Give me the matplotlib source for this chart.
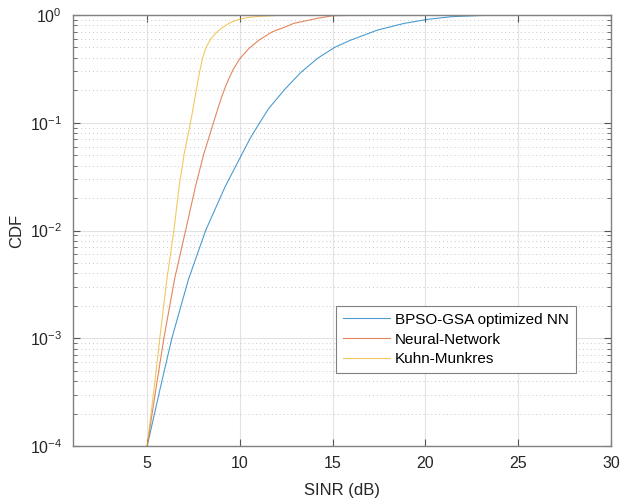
import math
import matplotlib
matplotlib.use('Agg')
import matplotlib.pyplot as plt
from matplotlib.ticker import LogLocator, FixedLocator, NullFormatter, FuncFormatter

plt.rcParams['font.family'] = ['Liberation Sans', 'DejaVu Sans']
plt.rcParams['mathtext.default'] = 'regular'

# CDF curves (SINR in dB, CDF value)
bpso_x = [5.0, 5.68, 6.33, 7.22, 8.15, 9.2, 10.13, 10.55, 10.98, 11.55, 12.38, 13.28,
          14.18, 15.1, 15.98, 17.42, 18.86, 20.12, 21.38, 23.0, 25.0, 27.8]
bpso_y = [1e-4, 3.3e-4, 1e-3, 3.5e-3, 1e-2, 2.55e-2, 5.2e-2, 7.16e-2, 9.5e-2, 0.1357, 0.201, 0.293,
          0.396, 0.501, 0.586, 0.726, 0.837, 0.912, 0.965, 0.99, 0.998, 1.0]

nn_x = [5.0, 5.46, 5.9, 6.47, 7.07, 7.6, 8.06, 8.4, 8.7, 8.99, 9.25, 9.62,
        10.0, 10.49, 11.03, 11.75, 12.47, 12.9, 14.18, 15.0, 16.5, 20.0]
nn_y = [1e-4, 3.3e-4, 1e-3, 3.5e-3, 1e-2, 2.55e-2, 5.2e-2, 8.0e-2, 0.118, 0.169, 0.224, 0.309,
        0.396, 0.49, 0.586, 0.70, 0.779, 0.837, 0.932, 0.985, 0.996, 1.0]

km_x = [5.0, 5.36, 5.68, 6.06, 6.44, 6.72, 7.0, 7.22, 7.41, 7.6, 7.79, 7.98, 8.1,
        8.24, 8.4, 8.6, 8.82, 9.05, 9.32, 9.59, 10.0, 10.45, 11.03, 12.0, 13.0, 15.0]
km_y = [1e-4, 3.3e-4, 1e-3, 3.5e-3, 1.0e-2, 2.55e-2, 5.2e-2, 8.0e-2, 0.118, 0.181, 0.277, 0.396, 0.46,
        0.527, 0.59, 0.652, 0.71, 0.763, 0.82, 0.867, 0.918, 0.95, 0.972, 0.99, 0.998, 1.0]

labels = ['BPSO-GSA optimized NN', 'Neural-Network', 'Kuhn-Munkres']
xticks = [5, 10, 15, 20, 25, 30]
yticks = [1e-4, 1e-3, 1e-2, 1e-1, 1]

fig = plt.figure(figsize=(6.2, 5.01), dpi=100)
ax = fig.add_axes([0.1177, 0.1098, 0.8678, 0.8602])

ax.plot(bpso_x, bpso_y, color='#0072BD', lw=0.8, alpha=0.7, label=labels[0])
ax.plot(nn_x, nn_y, color='#D95319', lw=0.8, alpha=0.7, label=labels[1])
ax.plot(km_x, km_y, color='#EDB120', lw=0.8, alpha=0.7, label=labels[2])

ax.set_yscale('log')
ax.set_xlim(1, 30)
ax.set_ylim(1e-4, 1)
ax.xaxis.set_major_locator(FixedLocator(xticks))
ax.yaxis.set_major_locator(FixedLocator(yticks))
ax.yaxis.set_minor_locator(LogLocator(base=10, subs=range(2, 10)))
ax.yaxis.set_minor_formatter(NullFormatter())
ax.yaxis.set_major_formatter(FuncFormatter(lambda v, p: '$10^{%d}$' % round(math.log10(v))))

ax.grid(True, which='major', color='#e2e2e2', lw=0.8, ls='-')
ax.grid(True, which='minor', axis='y', color='#c8c8c8', lw=0.7, ls=(0, (1, 3)))
ax.set_axisbelow(True)

for s in ax.spines.values():
    s.set_color('#808080')
    s.set_linewidth(1.0)
ax.tick_params(which='both', direction='in', top=True, right=True, colors='#555555',
               labelcolor='#262626', labelsize=11.5)
ax.tick_params(which='major', length=5)
ax.tick_params(which='minor', length=3)
ax.tick_params(axis='x', pad=7)
ax.tick_params(axis='y', pad=8)

ax.set_xlabel('SINR (dB)', fontsize=12, color='#262626', labelpad=9)
ax.set_ylabel('CDF', fontsize=12, color='#262626', labelpad=4)

leg = ax.legend(loc='upper left', bbox_to_anchor=(0.489, 0.325), fontsize=11,
                fancybox=False, framealpha=1, edgecolor='#808080', handlelength=3.1,
                borderpad=0.45, labelspacing=0.38, handletextpad=0.3, borderaxespad=0)
leg.get_frame().set_linewidth(0.8)

fig.savefig('out.png', dpi=100)
